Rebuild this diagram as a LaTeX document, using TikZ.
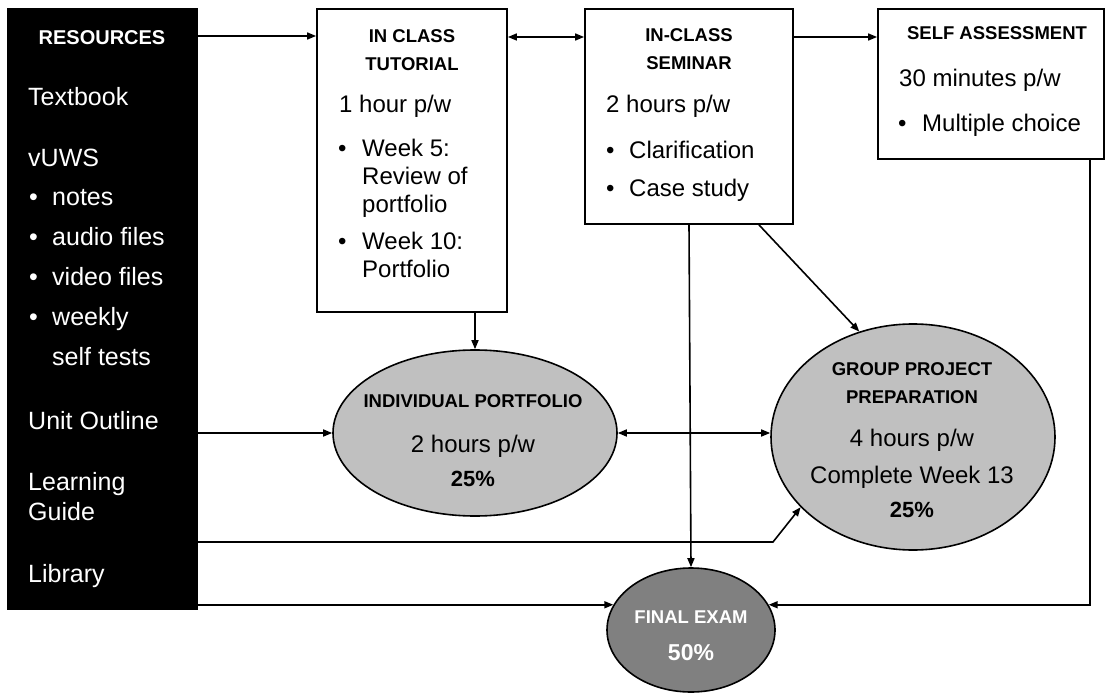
\documentclass[tikz,border=0pt]{standalone}
\usepackage{fontspec}
\setmainfont{Liberation Sans}
\usetikzlibrary{arrows.meta,shapes.geometric}
\definecolor{ellgray}{HTML}{C0C0C0}
\definecolor{fegray}{HTML}{808080}
\begin{document}
\begin{tikzpicture}[x=1pt,y=-1pt,
  arr/.style={line width=1.6pt,-{Triangle[length=9pt,width=7pt]}},
  darr/.style={line width=1.6pt,{Triangle[length=9pt,width=7pt]}-{Triangle[length=9pt,width=7pt]}},
  boxn/.style={draw,line width=1.8pt,rectangle,inner sep=0,fill=white},
  ell/.style={draw,line width=1.6pt,ellipse,inner sep=0,fill=ellgray},
  txt/.style={inner sep=0,anchor=base west,font=\fontsize{24}{28}\selectfont},
  ltxt/.style={inner sep=0,anchor=base west,text=white,font=\fontsize{25}{29}\selectfont},
  hd/.style={inner sep=0,anchor=base,font=\bfseries\fontsize{18.5}{22}\selectfont},
  ctr/.style={inner sep=0,anchor=base,font=\fontsize{24}{28}\selectfont},
  pct/.style={inner sep=0,anchor=base,font=\bfseries\fontsize{22}{26}\selectfont},
]
\useasboundingbox (0,0) rectangle (1107,695);

% shapes
\node[fill=black,inner sep=0,minimum width=191pt,minimum height=602pt] (res) at (102.5,309) {};
\node[boxn,minimum width=190pt,minimum height=303pt] (tut) at (412,160.5) {};
\node[boxn,minimum width=208pt,minimum height=215pt] (sem) at (689,116.5) {};
\node[boxn,minimum width=226pt,minimum height=150pt] (sa) at (991,84) {};
\node[ell,minimum width=284pt,minimum height=166pt] (ip) at (475,433) {};
\node[ell,minimum width=284pt,minimum height=226pt] (gp) at (913,437) {};
\node[ell,fill=fegray,minimum width=168pt,minimum height=124pt] (fe) at (691,630) {};

% resources text
\node[hd,text=white,font=\bfseries\fontsize{20}{24}\selectfont] (r0) at (102,45) {RESOURCES};
\node[ltxt] (r1) at (28,106) {Textbook};
\node[ltxt] (r2) at (28,167) {vUWS};
\node[ltxt] (rb1) at (29,205) {•};
\node[ltxt] (r3) at (52,205) {notes};
\node[ltxt] (rb2) at (29,245) {•};
\node[ltxt] (r4) at (52,245) {audio files};
\node[ltxt] (rb3) at (29,285) {•};
\node[ltxt] (r5) at (52,285) {video files};
\node[ltxt] (rb4) at (29,325) {•};
\node[ltxt] (r6) at (52,325) {weekly};
\node[ltxt] (r7) at (52,365) {self tests};
\node[ltxt] (r8) at (28,429) {Unit Outline};
\node[ltxt] (r9) at (28,490) {Learning};
\node[ltxt] (r10) at (28,520) {Guide};
\node[ltxt] (r11) at (28,582) {Library};

% tutorial text
\node[hd] (t0) at (412,43) {IN CLASS};
\node[hd] (t1) at (412,71) {TUTORIAL};
\node[txt] (t2) at (339,113) {1 hour p/w};
\node[txt] (tb1) at (338,157) {•};
\node[txt] (t3) at (362,157) {Week 5:};
\node[txt] (t4) at (362,185) {Review of};
\node[txt] (t5) at (362,212) {portfolio};
\node[txt] (tb2) at (338,249) {•};
\node[txt] (t6) at (362,249) {Week 10:};
\node[txt] (t7) at (362,277) {Portfolio};

% seminar text
\node[hd] (s0) at (689,42) {IN-CLASS};
\node[hd] (s1) at (689,70) {SEMINAR};
\node[txt] (s2) at (606,113) {2 hours p/w};
\node[txt] (sb1) at (606,159) {•};
\node[txt] (s3) at (629,159) {Clarification};
\node[txt] (sb2) at (606,196) {•};
\node[txt] (s4) at (629,196) {Case study};

% self assessment text
\node[hd] (a0) at (997,40) {SELF ASSESSMENT};
\node[txt] (a1) at (899,87) {30 minutes p/w};
\node[txt] (ab1) at (898,132) {•};
\node[txt] (a2) at (922,132) {Multiple choice};

% ellipse texts
\node[hd] (i0) at (473,407) {INDIVIDUAL PORTFOLIO};
\node[ctr] (i1) at (473,452) {2 hours p/w};
\node[pct] (i2) at (473,486) {25\%};

\node[hd] (g0) at (912,375) {GROUP PROJECT};
\node[hd] (g1) at (912,403) {PREPARATION};
\node[ctr] (g2) at (912,446) {4 hours p/w};
\node[ctr] (g3) at (912,483) {Complete Week 13};
\node[pct] (g4) at (912,517) {25\%};

\node[hd,text=white] (f0) at (691,623) {FINAL EXAM};
\node[pct,text=white,font=\bfseries\fontsize{23}{27}\selectfont] (f1) at (691,660) {50\%};

% connectors
\draw[arr] (res.east |- 0,36) -- (tut.west |- 0,36);
\draw[darr] (tut.east |- 0,37) -- (sem.west |- 0,37);
\draw[arr] (sem.east |- 0,37) -- (sa.west |- 0,37);
\draw[arr] (tut.south -| ip.north) -- (ip.north);
\draw[arr] (sem.south -| 759,0) -- (gp.117);
\draw[arr] (sem.south) -- (fe.north);
\draw[arr] (sa.south -| 1090,0) |- (fe.18);
\draw[arr] (ip.west -| res.east) -- (ip.west);
\draw[darr] (ip.east) -- (ip.east -| gp.west);
\coordinate (lgb) at (773,542);
\draw[arr] (lgb -| res.east) -- (lgb) -- (gp.212);
\draw[arr] (fe.162 -| res.east) -- (fe.162);
\end{tikzpicture}
\end{document}
